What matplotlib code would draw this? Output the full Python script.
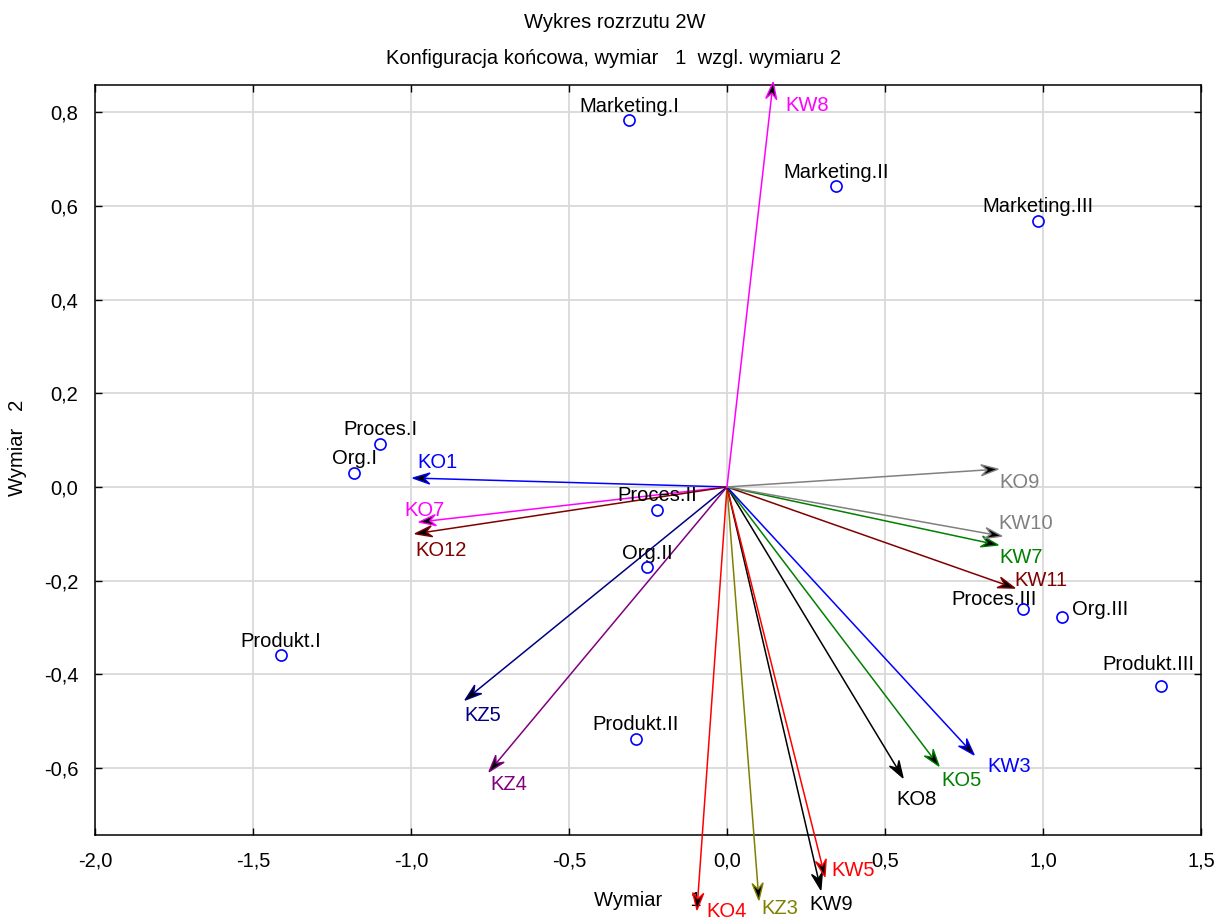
import numpy as np
import matplotlib.pyplot as plt
from matplotlib.patches import Polygon
from matplotlib.ticker import FuncFormatter, MultipleLocator

plt.rcParams['font.family'] = ['Liberation Sans', 'DejaVu Sans']

# Points (categories)
pt_names = ["Marketing.I", "Marketing.II", "Marketing.III",
            "Proces.I", "Org.I", "Proces.II", "Org.II",
            "Produkt.I", "Produkt.II", "Proces.III", "Org.III", "Produkt.III"]
pt_x = [-0.310, 0.345, 0.984, -1.098, -1.180, -0.222, -0.253,
        -1.411, -0.288, 0.937, 1.060, 1.373]
pt_y = [0.783, 0.642, 0.568, 0.092, 0.030, -0.049, -0.171,
        -0.359, -0.538, -0.260, -0.277, -0.425]

# Vectors (arrows from origin)
vec_names = ["KO1", "KO7", "KO12", "KZ5", "KZ4", "KO4", "KZ3", "KW9", "KW5",
             "KO8", "KO5", "KW3", "KW11", "KW7", "KW10", "KO9", "KW8"]
vec_x = [-0.994, -0.975, -0.987, -0.829, -0.753, -0.095, 0.101, 0.297, 0.310,
         0.557, 0.671, 0.782, 0.911, 0.858, 0.870, 0.858, 0.146]
vec_y = [0.019, -0.075, -0.100, -0.455, -0.608, -0.903, -0.882, -0.860, -0.832,
         -0.621, -0.596, -0.572, -0.216, -0.124, -0.105, 0.038, 0.864]
vec_colors = ["#0000ff", "#ff00ff", "#800000", "#000080", "#800080", "#ff0000",
              "#808000", "#000000", "#ff0000", "#000000", "#008000", "#0000ff",
              "#800000", "#008000", "#808080", "#808080", "#ff00ff"]

# label offsets in pixels (dx right, dy down)
pt_off = {"Proces.III": (-29, -9), "Org.III": (10, -7), "Produkt.III": (-12, -22)}
vec_off = [(4, -16), (-15, -12), (0, 17), (-1, 15), (1, 13), (9, 2), (2, 8),
           (-11, 15), (6, -6), (-7, 22), (2, 14), (13, 12), (-1, -8), (1, 12),
           (-4, -13), (1, 13), (12, 23)]

px = 0.72  # points per pixel at 100 dpi
fs = 14.5

fig = plt.figure(figsize=(12.16, 9.18), dpi=100)
ax = fig.add_axes([95 / 1216, 1 - 835 / 918, (1201 - 95) / 1216, (835 - 85) / 918])
ax.set_xlim(-2.0, 1.5)
ax.set_ylim(-0.743, 0.858)

ax.xaxis.set_major_locator(MultipleLocator(0.5))
ax.yaxis.set_major_locator(MultipleLocator(0.2))
fmt = FuncFormatter(lambda v, p: f"{v:.1f}".replace(".", ","))
ax.xaxis.set_major_formatter(fmt)
ax.yaxis.set_major_formatter(fmt)
ax.tick_params(direction="in", length=5, width=1, top=True, right=True,
               labelsize=fs, pad=12)
ax.grid(True, color="#d9d9d9", lw=1.3)
ax.set_axisbelow(True)
for s in ax.spines.values():
    s.set_linewidth(1.1)

# arrows: shaft + barbed head built in pixel space
to_px = ax.transData
to_data = ax.transData.inverted()
L, W, notch = 17, 5.5, 6
for name, x, y, c, off in zip(vec_names, vec_x, vec_y, vec_colors, vec_off):
    o = to_px.transform((0, 0))
    t = to_px.transform((x, y))
    u = (t - o) / np.hypot(*(t - o))
    n = np.array([-u[1], u[0]])
    back = t - (L - notch) * u
    ax.plot([0, to_data.transform(back)[0]], [0, to_data.transform(back)[1]],
            color=c, lw=1.1, clip_on=False, zorder=5)
    head = np.array([t, t - L * u + W * n, back, t - L * u - W * n])
    ax.add_patch(Polygon(to_data.transform(head), closed=True, fc="black", ec=c,
                         lw=1.0, clip_on=False, zorder=5))
    ax.annotate(name, xy=(x, y), xytext=(off[0] * px, -off[1] * px),
                textcoords="offset points", ha="left", va="center",
                color=c, fontsize=fs, annotation_clip=False, zorder=6)

# points
ax.plot(pt_x, pt_y, "o", ms=8, mfc="none", mec="#0000ff", mew=1.2,
        clip_on=False, zorder=7)
for name, x, y in zip(pt_names, pt_x, pt_y):
    dx, dy = pt_off.get(name, (0, -14))
    ha = "left" if name == "Org.III" else "center"
    ax.annotate(name, xy=(x, y), xytext=(dx * px, -dy * px),
                textcoords="offset points", ha=ha, va="center",
                fontsize=fs, annotation_clip=False, zorder=6)

fig.text(615 / 1216, 1 - 22 / 918, "Wykres rozrzutu 2W", ha="center", va="center", fontsize=fs)
fig.text(614 / 1216, 1 - 59 / 918, "Konfiguracja końcowa, wymiar   1  wzgl. wymiaru 2",
         ha="center", va="center", fontsize=fs)
ax.text(18 / 1216, 1 - 448 / 918, "Wymiar   2", rotation=90, ha="center", va="center",
        fontsize=fs, transform=fig.transFigure, clip_on=False)
ax.text(594 / 1216, 1 - 900 / 918, "Wymiar     1", ha="left", va="center",
        fontsize=fs, transform=fig.transFigure, clip_on=False, zorder=1)

fig.savefig("out.png", dpi=100)
